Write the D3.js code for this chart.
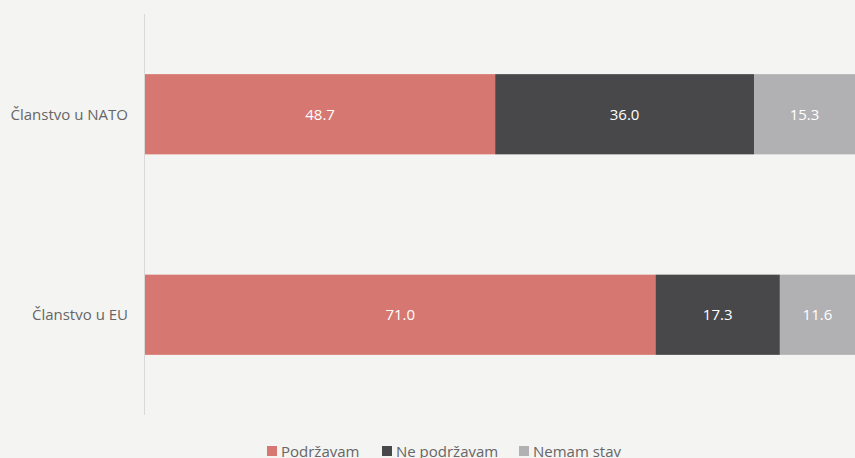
<!DOCTYPE html>
<html>
<head>
<meta charset="utf-8">
<script src="https://cdn.jsdelivr.net/npm/d3@7"></script>
<style>
  html, body { margin: 0; padding: 0; background: #f4f4f2; }
  svg { display: block; font-family: "Open Sans", sans-serif; }
</style>
</head>
<body>
<script>
var categories = ["Članstvo u NATO", "Članstvo u EU"];
var seriesNames = ["Podržavam", "Ne podržavam", "Nemam stav"];
var podrzavam = [48.7, 71.0];
var nePodrzavam = [36.0, 17.3];
var nemamStav = [15.3, 11.6];
var colors = ["#d67771", "#48484a", "#b1b1b3"];

var width = 855, height = 458;
var margin = {top: 14, left: 145, bottom: 43};

var svg = d3.select("body").append("svg")
    .attr("width", width).attr("height", height);

var x = d3.scaleLinear().domain([0, 100]).range([margin.left, margin.left + 719]);
var y = d3.scaleBand().domain(categories)
    .range([margin.top, height - margin.bottom]).paddingInner(0.6).paddingOuter(0.3);

var rows = categories.map(function(c, i) {
  return {cat: c, values: [podrzavam[i], nePodrzavam[i], nemamStav[i]]};
});

var stack = [];
rows.forEach(function(r) {
  var x0 = 0;
  r.values.forEach(function(v, j) {
    stack.push({cat: r.cat, x0: x0, x1: x0 + v, v: v, s: j});
    x0 += v;
  });
});

svg.selectAll(".bar").data(stack).enter().append("rect")
    .attr("class", "bar")
    .attr("x", function(d) { return x(d.x0); })
    .attr("width", function(d) { return x(d.x1) - x(d.x0); })
    .attr("y", function(d) { return y(d.cat); })
    .attr("height", y.bandwidth())
    .attr("fill", function(d) { return colors[d.s]; });

svg.selectAll(".val").data(stack).enter().append("text")
    .attr("x", function(d) { return (x(d.x0) + Math.min(x(d.x1), width)) / 2; })
    .attr("y", function(d) { return y(d.cat) + y.bandwidth() / 2; })
    .attr("dy", "0.35em")
    .attr("text-anchor", "middle")
    .attr("fill", "#fff")
    .style("font-size", "15px")
    .text(function(d) { return d.v.toFixed(1); });

// axis line
svg.append("line")
    .attr("x1", margin.left - 0.5).attr("x2", margin.left - 0.5)
    .attr("y1", margin.top).attr("y2", height - margin.bottom)
    .attr("stroke", "#d9d9d9").attr("stroke-width", 1);

svg.selectAll(".cat").data(categories).enter().append("text")
    .attr("x", margin.left - 17)
    .attr("y", function(d) { return y(d) + y.bandwidth() / 2; })
    .attr("dy", "0.35em")
    .attr("text-anchor", "end")
    .attr("fill", "#666")
    .style("font-size", "15px")
    .text(function(d) { return d; });

// legend
var legX = [267, 382, 519];
var leg = svg.selectAll(".leg").data(seriesNames).enter().append("g")
    .attr("transform", function(d, i) { return "translate(" + legX[i] + ",446)"; });
leg.append("rect").attr("width", 10).attr("height", 10)
    .attr("fill", function(d, i) { return colors[i]; });
leg.append("text").attr("x", 14).attr("y", 11)
    .attr("fill", "#666").style("font-size", "15px")
    .text(function(d) { return d; });
</script>
</body>
</html>
